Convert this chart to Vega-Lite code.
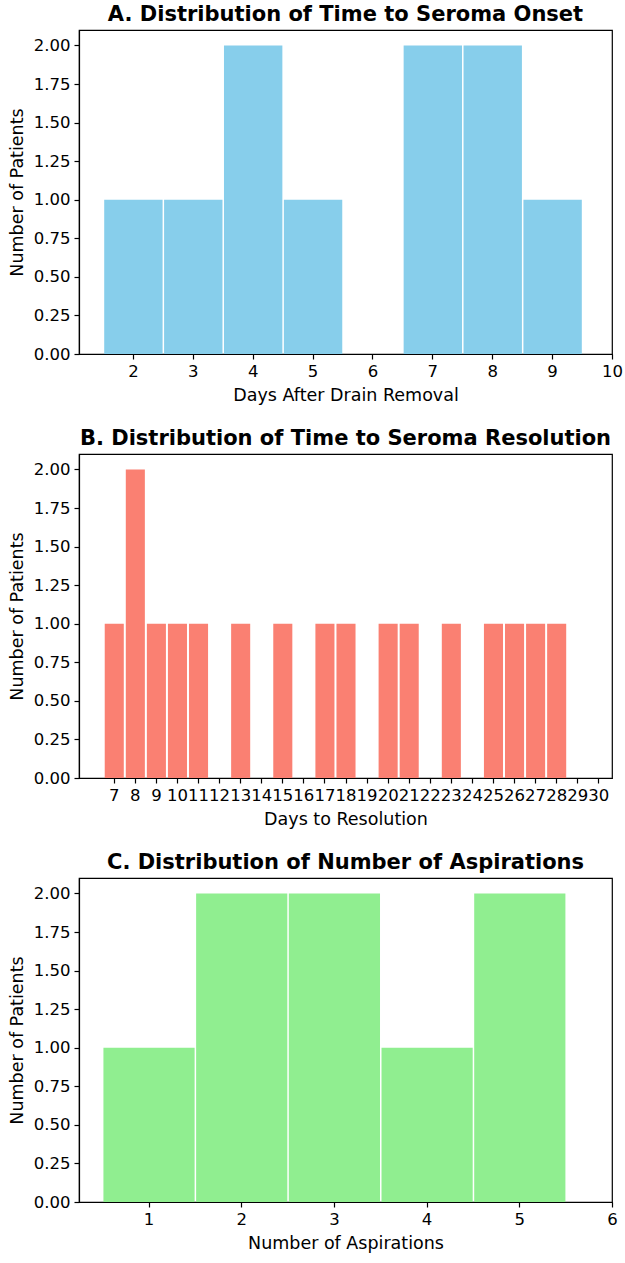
{
  "$schema": "https://vega.github.io/schema/vega-lite/v6.json",
  "background": "white",
  "padding": {"left": 7, "top": 3, "right": 8, "bottom": 2},
  "spacing": 22,
  "config": {
    "font": "DejaVu Sans",
    "view": {"stroke": "#000000", "strokeWidth": 1.2},
    "axis": {
      "grid": false,
      "zindex": 1,
      "domainColor": "#000000",
      "tickColor": "#000000",
      "labelColor": "#000000",
      "titleColor": "#000000",
      "labelFont": "DejaVu Sans",
      "titleFont": "DejaVu Sans",
      "labelFontSize": 16.5,
      "titleFontSize": 17.5,
      "titleFontWeight": "normal",
      "tickSize": 5,
      "tickWidth": 1.2,
      "labelPadding": 4,
      "titlePadding": 7,
      "domainWidth": 1.2
    },
    "title": {"font": "DejaVu Sans", "fontSize": 21, "fontWeight": "bold", "color": "#000000", "offset": 5}
  },
  "vconcat": [
    {
      "title": "A. Distribution of Time to Seroma Onset",
      "width": 533,
      "height": 324,
      "data": {"values": [
        {"day": 2, "patients": 1},
        {"day": 3, "patients": 1},
        {"day": 4, "patients": 2},
        {"day": 5, "patients": 1},
        {"day": 7, "patients": 2},
        {"day": 8, "patients": 2},
        {"day": 9, "patients": 1}
      ]},
      "mark": {"type": "bar", "color": "#87CEEB", "binSpacing": 1.5},
      "encoding": {
        "x": {"field": "day", "type": "quantitative", "bin": {"extent": [1.5, 9.5], "step": 1, "nice": false},
              "scale": {"domain": [1.1, 10], "nice": false},
              "axis": {"values": [2, 3, 4, 5, 6, 7, 8, 9, 10], "format": "d", "labelFlush": false, "title": "Days After Drain Removal"}},
        "y": {"field": "patients", "type": "quantitative", "aggregate": "sum",
              "scale": {"domain": [0, 2.1], "nice": false},
              "axis": {"values": [0, 0.25, 0.5, 0.75, 1, 1.25, 1.5, 1.75, 2], "format": ".2f", "labelFlush": false, "title": "Number of Patients"}}
      }
    },
    {
      "title": "B. Distribution of Time to Seroma Resolution",
      "width": 533,
      "height": 324,
      "data": {"values": [
        {"day": 7, "patients": 1},
        {"day": 8, "patients": 2},
        {"day": 9, "patients": 1},
        {"day": 10, "patients": 1},
        {"day": 11, "patients": 1},
        {"day": 13, "patients": 1},
        {"day": 15, "patients": 1},
        {"day": 17, "patients": 1},
        {"day": 18, "patients": 1},
        {"day": 20, "patients": 1},
        {"day": 21, "patients": 1},
        {"day": 23, "patients": 1},
        {"day": 25, "patients": 1},
        {"day": 26, "patients": 1},
        {"day": 27, "patients": 1},
        {"day": 28, "patients": 1}
      ]},
      "mark": {"type": "bar", "color": "#FA8072", "binSpacing": 2},
      "encoding": {
        "x": {"field": "day", "type": "quantitative", "bin": {"extent": [6.5, 29.5], "step": 1, "nice": false},
              "scale": {"domain": [5.35, 30.65], "nice": false},
              "axis": {"values": [7, 8, 9, 10, 11, 12, 13, 14, 15, 16, 17, 18, 19, 20, 21, 22, 23, 24, 25, 26, 27, 28, 29, 30], "format": "d", "labelOverlap": false, "labelFlush": false, "title": "Days to Resolution"}},
        "y": {"field": "patients", "type": "quantitative", "aggregate": "sum",
              "scale": {"domain": [0, 2.1], "nice": false},
              "axis": {"values": [0, 0.25, 0.5, 0.75, 1, 1.25, 1.5, 1.75, 2], "format": ".2f", "labelFlush": false, "title": "Number of Patients"}}
      }
    },
    {
      "title": "C. Distribution of Number of Aspirations",
      "width": 533,
      "height": 324,
      "data": {"values": [
        {"aspirations": 1, "patients": 1},
        {"aspirations": 2, "patients": 2},
        {"aspirations": 3, "patients": 2},
        {"aspirations": 4, "patients": 1},
        {"aspirations": 5, "patients": 2}
      ]},
      "mark": {"type": "bar", "color": "#90EE90", "binSpacing": 1.5},
      "encoding": {
        "x": {"field": "aspirations", "type": "quantitative", "bin": {"extent": [0.5, 5.5], "step": 1, "nice": false},
              "scale": {"domain": [0.25, 6], "nice": false},
              "axis": {"values": [1, 2, 3, 4, 5, 6], "format": "d", "labelFlush": false, "title": "Number of Aspirations"}},
        "y": {"field": "patients", "type": "quantitative", "aggregate": "sum",
              "scale": {"domain": [0, 2.1], "nice": false},
              "axis": {"values": [0, 0.25, 0.5, 0.75, 1, 1.25, 1.5, 1.75, 2], "format": ".2f", "labelFlush": false, "title": "Number of Patients"}}
      }
    }
  ]
}
